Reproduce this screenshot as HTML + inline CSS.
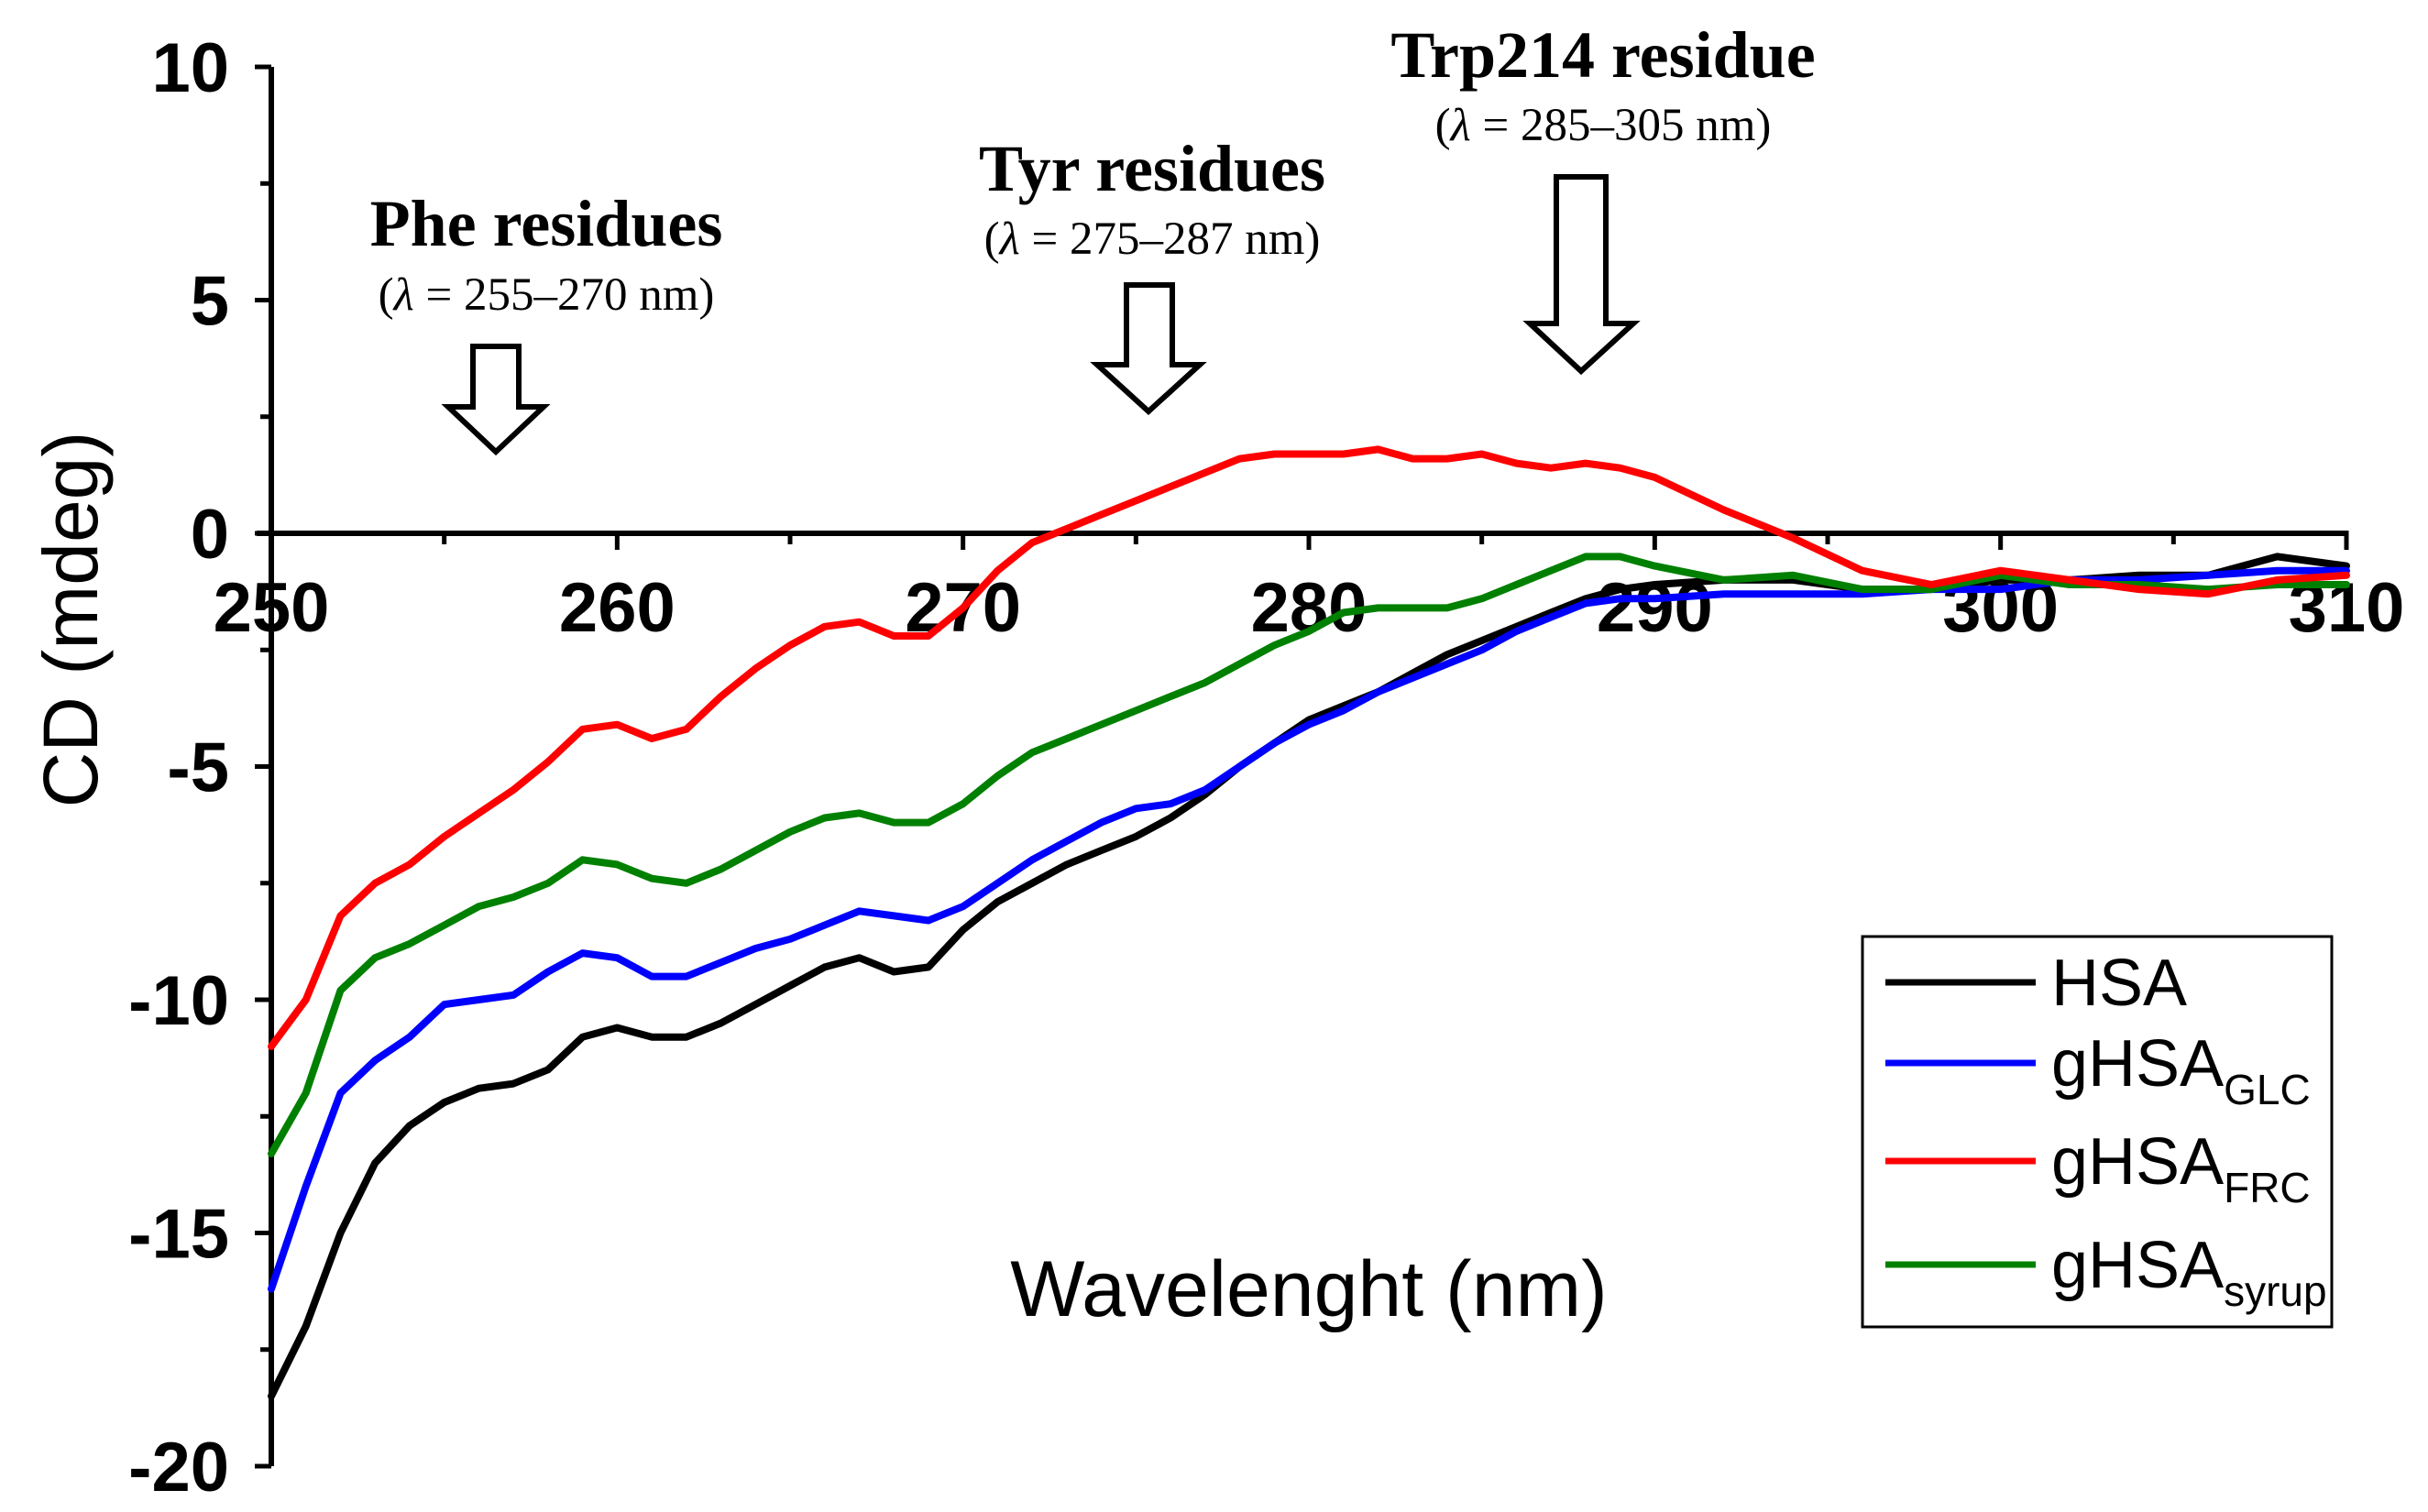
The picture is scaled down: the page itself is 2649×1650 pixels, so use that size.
<!DOCTYPE html>
<html><head><meta charset="utf-8"><style>
html,body{margin:0;padding:0;background:#fff;}
svg{display:block;}
.tick{font-family:"Liberation Sans",sans-serif;font-weight:bold;font-size:76px;fill:#000;}
.ann{font-family:"Liberation Serif",serif;font-weight:bold;font-size:72px;fill:#000;}
.sub{font-family:"Liberation Serif",serif;font-size:51px;fill:#000;}
.leg{font-family:"Liberation Sans",sans-serif;font-size:72px;fill:#000;}
</style></head><body>
<svg id="chart" width="2649" height="1650" viewBox="0 0 2649 1650">
<g id="axes"></g>
<g id="series"></g>
<text transform="translate(106,676) rotate(-90)" text-anchor="middle" style="font-family:'Liberation Sans',sans-serif;font-size:84px">CD (mdeg)</text>
<text x="1428" y="1436" text-anchor="middle" style="font-family:'Liberation Sans',sans-serif;font-size:86px">Wavelenght (nm)</text>
<g>
<text class="ann" x="596" y="268" text-anchor="middle">Phe residues</text>
<text class="sub" x="596" y="338" text-anchor="middle">(<tspan font-style="italic">λ</tspan> = 255–270 nm)</text>
<polygon points="516,378 566,378 566,444 593,444 541,493 489,444 516,444" fill="#fff" stroke="#000" stroke-width="6"/>
</g>
<g>
<text class="ann" x="1257" y="208" text-anchor="middle">Tyr residues</text>
<text class="sub" x="1257" y="277" text-anchor="middle">(<tspan font-style="italic">λ</tspan> = 275–287 nm)</text>
<polygon points="1229,311 1279,311 1279,398 1309,398 1253,449 1197,398 1229,398" fill="#fff" stroke="#000" stroke-width="6"/>
</g>
<g>
<text class="ann" x="1749" y="84" text-anchor="middle">Trp214 residue</text>
<text class="sub" x="1749" y="153" text-anchor="middle">(<tspan font-style="italic">λ</tspan> = 285–305 nm)</text>
<polygon points="1698,193 1752,193 1752,353 1782,353 1725,405 1669,353 1698,353" fill="#fff" stroke="#000" stroke-width="6"/>
</g>
<g>
<rect x="2032" y="1022" width="512" height="426" fill="#fff" stroke="#000" stroke-width="3"/>
<line x1="2057" y1="1072" x2="2221" y2="1072" stroke="#000" stroke-width="7"/>
<text class="leg" x="2238" y="1097">HSA</text>
<line x1="2057" y1="1160" x2="2221" y2="1160" stroke="#0000ff" stroke-width="7"/>
<text class="leg" x="2238" y="1185">gHSA<tspan font-size="46" dy="20">GLC</tspan></text>
<line x1="2057" y1="1267" x2="2221" y2="1267" stroke="#ff0000" stroke-width="7"/>
<text class="leg" x="2238" y="1292">gHSA<tspan font-size="46" dy="20">FRC</tspan></text>
<line x1="2057" y1="1380" x2="2221" y2="1380" stroke="#008000" stroke-width="7"/>
<text class="leg" x="2238" y="1405">gHSA<tspan font-size="46" dy="20">syrup</tspan></text>
</g>
</svg>
<script>
const wl = [250,251,252,253,254,255,256,257,258,259,260,261,262,263,264,265,266,267,268,269,270,271,272,273,274,275,276,277,278,279,280,281,282,283,284,285,286,287,288,289,290,292,294,296,298,300,302,304,306,308,310];
const hsa = [-18.5,-17,-15,-13.5,-12.7,-12.2,-11.9,-11.8,-11.5,-10.8,-10.6,-10.8,-10.8,-10.5,-10.1,-9.7,-9.3,-9.1,-9.4,-9.3,-8.5,-7.9,-7.5,-7.1,-6.8,-6.5,-6.1,-5.6,-5.0,-4.5,-4.0,-3.7,-3.4,-3.0,-2.6,-2.3,-2.0,-1.7,-1.4,-1.2,-1.1,-1.0,-1.0,-1.2,-1.2,-1.0,-1.0,-0.9,-0.9,-0.5,-0.7];
const glc = [-16.2,-14,-12,-11.3,-10.8,-10.1,-10,-9.9,-9.4,-9.0,-9.1,-9.5,-9.5,-9.2,-8.9,-8.7,-8.4,-8.1,-8.2,-8.3,-8.0,-7.5,-7.0,-6.6,-6.2,-5.9,-5.8,-5.5,-5.0,-4.5,-4.1,-3.8,-3.4,-3.1,-2.8,-2.5,-2.1,-1.8,-1.5,-1.4,-1.4,-1.3,-1.3,-1.3,-1.2,-1.2,-1.0,-1.0,-0.9,-0.8,-0.8];
const frc = [-11,-10,-8.2,-7.5,-7.1,-6.5,-6.0,-5.5,-4.9,-4.2,-4.1,-4.4,-4.2,-3.5,-2.9,-2.4,-2.0,-1.9,-2.2,-2.2,-1.6,-0.8,-0.2,0.1,0.4,0.7,1.0,1.3,1.6,1.7,1.7,1.7,1.8,1.6,1.6,1.7,1.5,1.4,1.5,1.4,1.2,0.5,-0.1,-0.8,-1.1,-0.8,-1.0,-1.2,-1.3,-1.0,-0.9];
const syrup = [-13.3,-12,-9.8,-9.1,-8.8,-8.4,-8.0,-7.8,-7.5,-7.0,-7.1,-7.4,-7.5,-7.2,-6.8,-6.4,-6.1,-6.0,-6.2,-6.2,-5.8,-5.2,-4.7,-4.4,-4.1,-3.8,-3.5,-3.2,-2.8,-2.4,-2.1,-1.7,-1.6,-1.6,-1.6,-1.4,-1.1,-0.8,-0.5,-0.5,-0.7,-1.0,-0.9,-1.2,-1.2,-0.9,-1.1,-1.1,-1.2,-1.1,-1.1];
const xTicks = [250,260,270,280,290,300,310];
const yTicks = [10,5,0,-5,-10,-15,-20];

const NS = "http://www.w3.org/2000/svg";
const X0=296, X1=2560, Y0=73, Y1=1600;
function sx(v){return X0+(v-250)/(310-250)*(X1-X0);}
function sy(v){return Y0+(10-v)/(10+20)*(Y1-Y0);}
function mk(tag, attrs, parent){const e=document.createElementNS(NS,tag);for(const k in attrs)e.setAttribute(k,attrs[k]);parent.appendChild(e);return e;}
const ax=document.getElementById('axes');
let e;
e=mk('line',{x1:X0,y1:Y0,x2:X0,y2:Y1,stroke:'#000','stroke-width':6},ax);


e=mk('line',{x1:X0-16,y1:sy(0),x2:X1,y2:sy(0),stroke:'#000','stroke-width':6},ax);


mk('line',{x1:X1,y1:sy(0)-3,x2:X1,y2:sy(0)+18,stroke:'#000','stroke-width':5},ax);
yTicks.forEach(t=>{
  mk('line',{x1:X0-18,y1:sy(t),x2:X0,y2:sy(t),stroke:'#000','stroke-width':5},ax);
  if(t>-20) mk('line',{x1:X0-12,y1:sy(t-2.5),x2:X0,y2:sy(t-2.5),stroke:'#000','stroke-width':5},ax);
  const tx=mk('text',{x:250,y:sy(t)+27,'text-anchor':'end','class':'tick'},ax);
  tx.textContent=t;
  
  
});
xTicks.forEach((t,i)=>{
  mk('line',{x1:sx(t),y1:sy(0),x2:sx(t),y2:sy(0)+18,stroke:'#000','stroke-width':5},ax);
  if(i<xTicks.length-1) mk('line',{x1:sx(t+5),y1:sy(0),x2:sx(t+5),y2:sy(0)+12,stroke:'#000','stroke-width':5},ax);
  const tx=mk('text',{x:sx(t),y:sy(0)+107,'text-anchor':'middle','class':'tick'},ax);
  tx.textContent=t;
  
  
});
const sg=document.getElementById('series');
[[hsa,'#000','hsa'],[glc,'#0000ff','ghsa-glc'],[syrup,'#008000','ghsa-syrup'],[frc,'#ff0000','ghsa-frc']].forEach(([d,c,n])=>{
  const pts=wl.map((w,i)=>sx(w).toFixed(1)+','+sy(d[i]).toFixed(1)).join(' ');
  const p=mk('polyline',{points:pts,fill:'none',stroke:c,'stroke-width':8,'stroke-linejoin':'round','stroke-linecap':'round'},sg);
  
  
});
</script>
</body></html>
